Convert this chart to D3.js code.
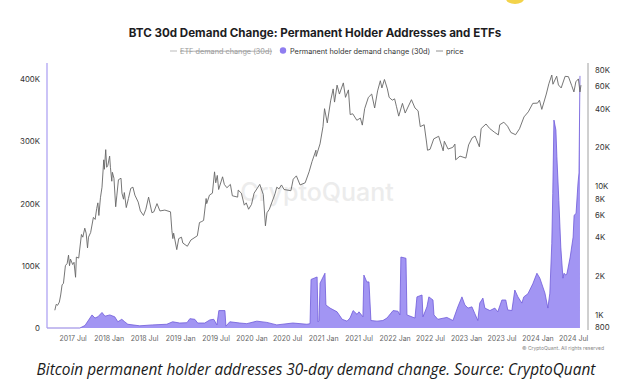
<!DOCTYPE html>
<html>
<head>
<meta charset="utf-8">
<script src="https://cdn.jsdelivr.net/npm/d3@7"></script>
<style>
  body { margin: 0; background: #fff; }
  svg { display: block; }
</style>
</head>
<body>
<svg id="chart" width="640" height="392"></svg>
<script>
// price (USD), right log axis
var priceData = [
  ["2017-04-01",1080],["2017-04-08",1200],["2017-04-15",1180],["2017-04-24",1250],["2017-05-01",1420],["2017-05-08",1700],["2017-05-15",1750],["2017-05-25",2400],
  ["2017-06-03",2500],["2017-06-10",2900],["2017-06-15",2400],["2017-06-20",2700],["2017-07-01",2450],["2017-07-08",2550],["2017-07-16",1950],["2017-07-20",2800],["2017-08-01",2750],
  ["2017-08-15",4200],["2017-08-22",4000],["2017-09-01",4700],["2017-09-08",4300],["2017-09-15",3300],["2017-09-20",4000],["2017-10-01",4350],["2017-10-15",5700],
  ["2017-10-24",5500],["2017-11-01",6700],["2017-11-07",7400],["2017-11-12",5900],["2017-11-20",8100],["2017-11-28",9800],["2017-12-07",16000],["2017-12-10",13500],["2017-12-17",19200],
  ["2017-12-22",14000],["2017-12-28",14500],["2018-01-06",17100],["2018-01-10",14000],["2018-01-17",10900],["2018-01-20",12800],["2018-01-28",11500],["2018-02-06",6900],["2018-02-12",8500],["2018-02-20",11200],
  ["2018-03-05",11500],["2018-03-10",8800],["2018-03-18",7900],["2018-03-22",8900],["2018-04-01",6800],["2018-04-12",8000],["2018-04-24",9600],["2018-05-05",9800],["2018-05-15",8500],
  ["2018-06-01",7500],["2018-06-12",6400],["2018-06-28",5900],["2018-07-10",6600],["2018-07-24",8200],["2018-08-10",6200],["2018-08-20",6300],["2018-09-05",7300],
  ["2018-09-20",6400],["2018-10-15",6500],["2018-11-13",6300],["2018-11-20",4500],["2018-11-25",3900],["2018-11-29",4300],
  ["2018-12-15",3200],["2018-12-25",3900],["2019-01-08",4000],["2019-01-15",3600],["2019-02-07",3400],["2019-02-25",3800],
  ["2019-03-30",4100],["2019-04-10",5200],["2019-04-22",5300],["2019-05-01",5400],["2019-05-14",8000],["2019-05-17",7300],["2019-05-31",8500],
  ["2019-06-15",8800],["2019-06-26",12900],["2019-07-02",10600],["2019-07-10",12100],["2019-07-17",9400],["2019-08-06",11800],["2019-08-15",10300],
  ["2019-08-28",9700],["2019-09-15",10300],["2019-09-25",8400],["2019-10-22",8200],["2019-10-25",9300],["2019-11-10",8800],
  ["2019-11-25",7100],["2019-12-05",7400],["2019-12-17",6600],["2020-01-01",7200],["2020-01-14",8800],["2020-02-12",10300],["2020-03-01",8600],
  ["2020-03-12",4900],["2020-03-20",6200],["2020-04-01",6600],["2020-04-30",8700],["2020-05-09",9800],["2020-05-20",9500],["2020-06-02",10200],["2020-06-15",9400],
  ["2020-07-20",9200],["2020-08-01",11300],["2020-08-17",12000],["2020-09-05",10200],["2020-10-01",10600],
  ["2020-10-21",12900],["2020-11-05",15500],["2020-11-25",19000],["2020-11-26",17000],["2020-12-16",21300],["2020-12-31",29000],
  ["2021-01-08",40000],["2021-01-22",31000],["2021-02-08",46000],["2021-02-21",57000],["2021-02-28",45000],
  ["2021-03-13",61000],["2021-03-25",52000],["2021-04-14",63500],["2021-04-25",49000],["2021-05-10",56000],
  ["2021-05-19",36000],["2021-06-01",36500],["2021-06-22",32500],["2021-07-10",33800],["2021-07-20",29800],
  ["2021-08-01",40000],["2021-08-20",49000],["2021-09-06",52000],["2021-09-21",40500],["2021-10-06",55000],
  ["2021-10-20",66000],["2021-10-28",58000],["2021-11-10",67500],["2021-11-25",57000],["2021-12-04",49000],["2021-12-20",46600],
  ["2022-01-01",47700],["2022-01-10",41800],["2022-01-22",35000],["2022-02-10",44000],["2022-02-24",37000],["2022-03-28",47000],
  ["2022-04-15",40500],["2022-05-01",38500],["2022-05-12",29000],["2022-06-01",30000],["2022-06-13",22000],
  ["2022-06-18",19000],["2022-07-01",19300],["2022-07-20",23300],["2022-08-14",24400],["2022-09-06",18800],
  ["2022-09-12",22300],["2022-10-01",19400],["2022-10-25",20000],["2022-11-05",21200],["2022-11-09",16000],
  ["2022-12-01",17100],["2022-12-31",16500],["2023-01-14",20900],["2023-02-01",23700],["2023-02-16",24500],
  ["2023-03-10",20200],["2023-03-19",28000],["2023-04-13",30400],["2023-05-01",28100],["2023-05-25",26300],
  ["2023-06-15",25000],["2023-06-22",30000],["2023-07-13",31400],["2023-08-01",29200],["2023-08-18",26100],
  ["2023-09-11",25100],["2023-10-01",27900],["2023-10-24",34500],["2023-11-15",37800],["2023-12-08",44000],
  ["2024-01-01",44200],["2024-01-11",46600],["2024-01-23",39500],["2024-02-15",52000],["2024-02-28",62500],
  ["2024-03-14",73100],["2024-03-20",62000],["2024-04-08",71600],["2024-04-17",61200],["2024-05-01",58000],
  ["2024-05-21",71400],["2024-06-07",71000],["2024-06-24",60300],["2024-07-05",54000],["2024-07-15",64800],
  ["2024-07-28",68200],["2024-08-05",54000],["2024-08-10",61000]
];

// permanent holder demand change (30d), left axis
var demandData = [
  ["2017-02-20",0],["2017-08-07",0],["2017-09-02",4000],["2017-10-08",21000],["2017-10-23",16000],
  ["2017-11-07",18000],["2017-11-28",25000],["2017-12-13",19000],["2018-01-07",21000],["2018-02-01",18000],
  ["2018-02-17",10000],["2018-03-09",14000],["2018-03-24",10000],["2018-04-09",6000],["2018-06-09",3500],
  ["2018-08-14",5000],["2018-10-25",6000],["2018-11-24",10000],["2018-12-30",8000],["2019-02-05",8500],
  ["2019-02-20",15000],["2019-03-17",14000],["2019-04-01",8000],["2019-05-07",8000],["2019-06-02",13000],
  ["2019-06-22",14000],["2019-07-08",5000],["2019-07-18",28000],["2019-08-18",28000],["2019-08-23",3000],
  ["2019-09-12",10000],["2019-11-02",8000],["2019-12-08",7000],["2020-01-28",11000],["2020-03-19",9000],
  ["2020-05-09",5000],["2020-07-30",8000],["2020-10-10",6000],["2020-10-26",7000],["2020-10-31",78000],
  ["2020-12-01",82000],["2020-12-06",10000],["2020-12-11",12000],["2020-12-16",72000],["2021-01-10",88000],
  ["2021-01-15",37000],["2021-02-05",32000],["2021-03-13",26000],["2021-04-08",14000],["2021-05-03",11000],
  ["2021-05-18",16000],["2021-06-03",28000],["2021-06-23",22000],["2021-07-03",26000],["2021-07-23",18000],
  ["2021-07-28",85000],["2021-08-12",74000],["2021-08-23",74000],["2021-09-02",12000],["2021-10-03",11000],
  ["2021-11-02",12000],["2021-11-23",16000],["2021-12-24",28000],["2022-01-18",27000],["2022-01-28",21000],
  ["2022-02-02",114000],["2022-02-28",112000],["2022-03-05",21000],["2022-04-15",16000],["2022-04-25",50000],
  ["2022-05-21",53000],["2022-05-26",18000],["2022-06-15",34000],["2022-06-25",50000],["2022-07-16",45000],
  ["2022-07-21",21000],["2022-08-10",14000],["2022-09-25",17000],["2022-10-26",12000],["2022-11-20",34000],
  ["2022-12-11",50000],["2022-12-26",37000],["2023-01-11",32000],["2023-01-31",34000],["2023-02-15",23000],
  ["2023-03-02",12000],["2023-03-12",40000],["2023-03-28",48000],["2023-04-07",32000],["2023-05-03",28000],
  ["2023-05-28",32000],["2023-06-12",26000],["2023-07-03",45000],["2023-07-23",45000],["2023-08-02",29000],
  ["2023-08-23",28000],["2023-09-07",61000],["2023-09-23",50000],["2023-10-13",40000],["2023-10-23",50000],
  ["2023-11-13",55000],["2023-12-08",71000],["2023-12-29",88000],["2024-01-13",80000],["2024-02-08",56000],
  ["2024-02-18",40000],["2024-02-23",32000],["2024-03-04",56000],["2024-03-14",136000],["2024-03-19",216000],
  ["2024-03-25",334000],["2024-04-04",318000],["2024-04-09",275000],["2024-04-19",205000],["2024-04-29",130000],
  ["2024-05-10",80000],["2024-05-15",88000],["2024-05-25",85000],["2024-05-31",88000],["2024-06-16",114000],
  ["2024-07-01",146000],["2024-07-06",181000],["2024-07-16",184000],["2024-07-26",233000],["2024-07-31",249000],
  ["2024-08-05",405000]
];

var leftTicks = [0, 100000, 200000, 300000, 400000];
var rightTicks = [800, 1000, 2000, 4000, 6000, 8000, 10000, 20000, 40000, 60000, 80000];
var legendItems = ["ETF demand change (30d)", "Permanent holder demand change (30d)", "price"];

var parse = d3.timeParse("%Y-%m-%d");
var price = priceData.map(function(d) { return {date: parse(d[0]), value: d[1]}; });
var demand = demandData.map(function(d) { return {date: parse(d[0]), value: d[1]}; });

var svg = d3.select("#chart");
var font = "Inter, 'DejaVu Sans', sans-serif";

var x = d3.scaleTime()
  .domain([new Date(2017, 1, 20), new Date(2024, 8, 15)])
  .range([47, 588]);
var yLeft = d3.scaleLinear().domain([0, 400000]).range([328, 79]);
var yRight = d3.scaleLog().domain([800, 80000]).range([327, 70]);

// little yellow thing at the very top (page crop)
svg.append("ellipse")
  .attr("cx", 515).attr("cy", -1)
  .attr("rx", 9).attr("ry", 5)
  .attr("fill", "#f3d34a");

// title
svg.append("text")
  .attr("x", 315).attr("y", 37)
  .attr("text-anchor", "middle")
  .attr("font-family", font)
  .attr("font-weight", "bold")
  .attr("font-size", 11.6)
  .attr("fill", "#1d1d1f")
  .text("BTC 30d Demand Change: Permanent Holder Addresses and ETFs");

// legend
var leg = svg.append("g").attr("font-family", font).attr("font-size", 7.3);
leg.append("line").attr("x1", 170).attr("x2", 177).attr("y1", 51).attr("y2", 51)
  .attr("stroke", "#aaa").attr("stroke-width", 0.8);
leg.append("text").attr("x", 180).attr("y", 53.5)
  .attr("fill", "#9a9a9a").attr("text-decoration", "line-through")
  .text(legendItems[0]);
leg.append("circle").attr("cx", 283).attr("cy", 50.5).attr("r", 3.2).attr("fill", "#8f7df0");
leg.append("text").attr("x", 290).attr("y", 53.5).attr("fill", "#333").text(legendItems[1]);
leg.append("line").attr("x1", 436).attr("x2", 443).attr("y1", 51).attr("y2", 51)
  .attr("stroke", "#777").attr("stroke-width", 0.8);
leg.append("text").attr("x", 446).attr("y", 53.5).attr("fill", "#333").text(legendItems[2]);

// watermark
svg.append("text")
  .attr("x", 317).attr("y", 201)
  .attr("text-anchor", "middle")
  .attr("font-family", font)
  .attr("font-size", 25)
  .attr("font-weight", 500)
  .attr("fill", "#ececec")
  .text("CryptoQuant");

// demand area
var area = d3.area()
  .x(function(d) { return x(d.date); })
  .y0(yLeft(0))
  .y1(function(d) { return yLeft(d.value); });
var line = d3.line()
  .x(function(d) { return x(d.date); })
  .y(function(d) { return yLeft(d.value); });

svg.append("path").datum(demand)
  .attr("d", area)
  .attr("fill", "#a295f3");
svg.append("path").datum(demand)
  .attr("d", line)
  .attr("fill", "none")
  .attr("stroke", "#6e5ad9")
  .attr("stroke-width", 0.8);

// price line
var priceLine = d3.line()
  .x(function(d) { return x(d.date); })
  .y(function(d) { return yRight(d.value); });
svg.append("path").datum(price)
  .attr("d", priceLine)
  .attr("fill", "none")
  .attr("stroke", "#666")
  .attr("stroke-width", 0.9);

// axis lines
svg.append("line").attr("x1", 47).attr("x2", 47).attr("y1", 63).attr("y2", 328)
  .attr("stroke", "#a89cf2").attr("stroke-width", 1.2);
svg.append("line").attr("x1", 588).attr("x2", 588).attr("y1", 63).attr("y2", 330)
  .attr("stroke", "#888").attr("stroke-width", 0.8);

// left axis
var gl = svg.append("g").attr("transform", "translate(43,0)")
  .call(d3.axisLeft(yLeft).tickValues(leftTicks).tickSize(0)
    .tickFormat(function(v) { return v === 0 ? "0" : (v / 1000) + "K"; }));
gl.select(".domain").remove();
gl.selectAll("text").attr("font-family", font).attr("font-size", 7.8).attr("fill", "#333");

// right axis
var gr = svg.append("g").attr("transform", "translate(592,0)")
  .call(d3.axisRight(yRight).tickValues(rightTicks).tickSize(0)
    .tickFormat(function(v) { return v < 1000 ? String(v) : (v / 1000) + "K"; }));
gr.select(".domain").remove();
gr.selectAll("text").attr("font-family", font).attr("font-size", 7.8).attr("fill", "#333");

// x axis
var monthFmt = d3.timeFormat("%Y %b");
var gx = svg.append("g").attr("transform", "translate(0,333)")
  .call(d3.axisBottom(x).ticks(d3.timeMonth.every(6)).tickSize(0).tickFormat(monthFmt));
gx.select(".domain").remove();
gx.selectAll("text").attr("font-family", font).attr("font-size", 7).attr("fill", "#666");

// copyright
svg.append("text")
  .attr("x", 604).attr("y", 350)
  .attr("text-anchor", "end")
  .attr("font-family", font)
  .attr("font-size", 5)
  .attr("fill", "#888")
  .text("\u00a9 CryptoQuant. All rights reserved");

// caption
svg.append("text")
  .attr("x", 316).attr("y", 375)
  .attr("text-anchor", "middle")
  .attr("font-family", "'Open Sans', sans-serif")
  .attr("font-style", "italic")
  .attr("font-size", 15.4)
  .attr("fill", "#1a1a1a")
  .text("Bitcoin permanent holder addresses 30-day demand change. Source: CryptoQuant");
</script>
</body>
</html>
